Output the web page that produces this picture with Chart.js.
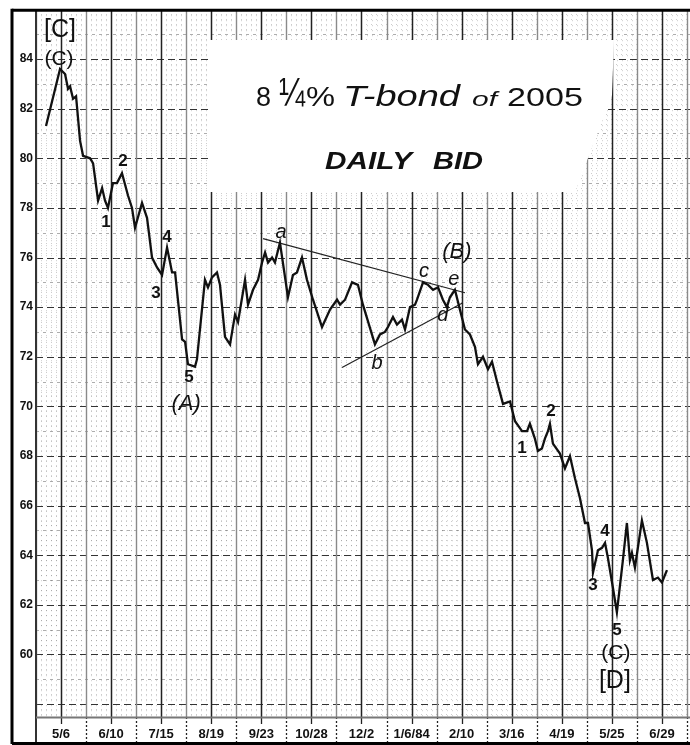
<!DOCTYPE html>
<html>
<head>
<meta charset="utf-8">
<script src="https://cdn.jsdelivr.net/npm/chart.js@4.4.1/dist/chart.umd.min.js"></script>
<style>
  html, body { margin: 0; padding: 0; background: #fff; }
  #wrap { width: 690px; height: 745px; }
</style>
</head>
<body>
<div id="wrap"><canvas id="chart" width="690" height="745"></canvas></div>
<script>
// Calendar days counted from 5/6/83, and the daily bid at each turn of the line
const days = [
  -10.5, -0.7, 2.8, 4.9, 6.3, 8.4, 10.5, 13.3, 15.4, 20.3,
  22.4, 25.9, 28.7, 30.7, 32.8, 36.3, 39.1, 42.6, 46.8, 49.6,
  51.7, 56.6, 60.1, 63.6, 67.1, 70.6, 74.1, 77.6, 79.7, 84.6,
  86.7, 88.7, 93.6, 95.0, 100.6, 102.7, 105.5, 109.0, 111.1, 114.6,
  118.1, 121.6, 123.7, 128.6, 130.7, 134.2, 137.7, 140.5, 142.6, 144.7,
  147.5, 149.5, 153.0, 158.6, 162.1, 164.9, 168.4, 171.9, 176.1, 182.4,
  188.0, 192.9, 195.0, 198.5, 203.4, 207.5, 211.0, 219.4, 222.9, 226.4,
  228.5, 232.0, 234.8, 238.3, 240.4, 243.9, 247.4, 248.8, 253.0, 256.5,
  260.0, 263.5, 266.9, 269.7, 271.8, 275.3, 278.8, 282.3, 285.8, 289.3,
  291.4, 294.9, 298.4, 301.2, 304.7, 308.9, 313.8, 317.3, 322.2, 325.7,
  327.7, 331.2, 333.3, 336.1, 338.2, 340.3, 341.7, 343.8, 348.7, 352.2,
  355.7, 359.2, 362.7, 366.2, 368.3, 371.1, 371.8, 375.3, 378.1, 380.2,
  382.2, 385.7, 388.5, 392.7, 395.5, 397.6, 399.0, 401.1, 406.0, 409.5,
  413.7, 417.2, 420.0, 423.5
];
const bid = [
  81.3, 83.6, 83.4, 82.8, 82.9, 82.4, 82.5, 80.7, 80.1, 80.0,
  79.8, 78.3, 78.8, 78.3, 78.0, 79.0, 79.0, 79.4, 78.5, 78.0,
  77.2, 78.2, 77.6, 76.0, 75.6, 75.3, 76.4, 75.4, 75.4, 72.7,
  72.6, 71.7, 71.6, 71.9, 75.1, 74.8, 75.2, 75.4, 74.9, 72.8,
  72.5, 73.7, 73.4, 75.1, 74.1, 74.7, 75.1, 75.8, 76.2, 75.8,
  76.0, 75.8, 76.6, 74.4, 75.3, 75.4, 76.0, 75.1, 74.3, 73.2,
  73.9, 74.3, 74.1, 74.3, 75.0, 74.9, 74.1, 72.5, 72.9, 73.0,
  73.2, 73.6, 73.3, 73.5, 73.1, 74.0, 74.1, 74.3, 75.0, 74.9,
  74.7, 74.8, 74.3, 74.0, 74.4, 74.7, 73.9, 73.1, 72.9, 72.4,
  71.7, 72.0, 71.5, 71.8, 71.0, 70.1, 70.2, 69.4, 69.0, 69.0,
  69.3, 68.7, 68.2, 68.3, 68.7, 69.0, 69.3, 68.5, 68.1, 67.5,
  68.0, 67.1, 66.3, 65.3, 65.3, 64.2, 63.3, 64.2, 64.3, 64.5,
  63.9, 62.7, 61.7, 63.8, 65.3, 63.8, 64.1, 63.5, 65.4, 64.5,
  63.0, 63.1, 62.9, 63.4
];

// Triangle boundary lines (a-c and b-d)
const upperLineDays = [141.2, 282.3];
const upperLineBids = [76.76, 74.58];
const lowerLineDays = [196.4, 280.9];
const lowerLineBids = [71.57, 74.18];

// Axis ticks
const tickDays = [0, 35, 70, 105, 140, 175, 210, 245, 280, 315, 350, 385, 420];
const tickLabels = ['5/6', '6/10', '7/15', '8/19', '9/23', '10/28', '12/2', '1/6/84', '2/10', '3/16', '4/19', '5/25', '6/29'];
const priceTicks = [60, 62, 64, 66, 68, 70, 72, 74, 76, 78, 80, 82, 84];

// Wave count labels
const waveTexts = ['[C]', '(C)', '1', '2', '3', '4', '5', '(A)', 'a', 'b', 'c', 'd', 'e', '(B)', '1', '2', '3', '4', '5', '(C)', '[D]'];
const waveDays  = [-0.7, -1.4, 31.4, 43.3, 66.4, 74.1, 89.4, 87.4, 153.7, 220.8, 253.7, 266.9, 274.6, 276.7, 322.2, 342.4, 371.8, 380.2, 388.5, 387.8, 387.1];
const waveBids  = [85.17, 84.0, 77.4, 79.86, 74.54, 76.8, 71.16, 70.12, 77.0, 71.73, 75.43, 73.66, 75.11, 76.23, 68.31, 69.79, 62.79, 64.97, 60.98, 60.06, 58.93];
const waveKinds = ['degree', 'paren', 'num', 'num', 'num', 'num', 'num', 'ital', 'letter', 'letter', 'letter', 'letter', 'letter', 'ital', 'num', 'num', 'num', 'num', 'num', 'paren', 'degree'];

const SANS = '"Liberation Sans", Arial, Helvetica, sans-serif';
const labelFonts = {
  degree: '25px ' + SANS,
  paren: '21px ' + SANS,
  num: 'bold 17px ' + SANS,
  ital: 'italic 22px ' + SANS,
  letter: 'italic 20px ' + SANS
};

function strokeLine(ctx, x1, y1, x2, y2) {
  ctx.beginPath();
  ctx.moveTo(x1, y1);
  ctx.lineTo(x2, y2);
  ctx.stroke();
}

// Draws text stretched horizontally to a given width, left edge at x
function fitText(ctx, text, font, x, baseline, width) {
  ctx.font = font;
  const natural = ctx.measureText(text).width;
  ctx.save();
  ctx.translate(x, baseline);
  ctx.scale(width / natural, 1);
  ctx.textAlign = 'left';
  ctx.textBaseline = 'alphabetic';
  ctx.fillText(text, 0, 0);
  ctx.restore();
}

// Graph-paper ruling, title panel and frame
const paperPlugin = {
  id: 'paper',
  beforeDatasetsDraw(chart) {
    const { ctx, chartArea: a, scales: { x, y } } = chart;
    ctx.save();
    ctx.beginPath();
    ctx.rect(a.left, a.top, a.right - a.left, a.bottom - a.top);
    ctx.clip();

    // fine dotted ruling
    ctx.lineWidth = 1;
    ctx.strokeStyle = 'rgba(0,0,0,0.20)';
    ctx.setLineDash([1, 4]);
    for (let k = -5; k <= 126; k++) {
      if (k % 5 === 0) continue;
      const px = Math.round(x.getPixelForValue(k * 3.5)) + 0.5;
      strokeLine(ctx, px, a.top, px, a.bottom);
    }
    for (let k = 287; k <= 430; k++) {
      if (k % 5 === 0) continue;
      const py = Math.round(y.getPixelForValue(k / 5)) + 0.5;
      strokeLine(ctx, a.left, py, a.right, py);
    }

    // whole-point lines
    for (let v = 58; v <= 85; v++) {
      const py = Math.round(y.getPixelForValue(v)) + 0.5;
      if (v % 2 === 0) {
        ctx.strokeStyle = '#333'; ctx.lineWidth = 1.2; ctx.setLineDash([7, 4]);
      } else {
        ctx.strokeStyle = 'rgba(0,0,0,0.32)'; ctx.lineWidth = 1; ctx.setLineDash([3, 4]);
      }
      strokeLine(ctx, a.left, py, a.right, py);
    }

    // week-group verticals
    ctx.setLineDash([]);
    for (let k = -1; k <= 25; k++) {
      const d = k * 17.5;
      const px = Math.round(x.getPixelForValue(d)) + 0.5;
      if (k % 2 === 0) { ctx.strokeStyle = '#222'; ctx.lineWidth = 1.5; }
      else { ctx.strokeStyle = '#8a8a8a'; ctx.lineWidth = 1.4; }
      strokeLine(ctx, px, a.top, px, a.bottom);
    }

    // white panel behind the title
    ctx.fillStyle = '#fff';
    ctx.beginPath();
    ctx.moveTo(208, 40);
    ctx.lineTo(614, 40);
    ctx.lineTo(612, 95);
    ctx.lineTo(575, 192);
    ctx.lineTo(208, 192);
    ctx.closePath();
    ctx.fill();
    ctx.restore();

    // title
    ctx.save();
    ctx.fillStyle = '#111';
    fitText(ctx, '8', '27px ' + SANS, 256, 106, 15);
    fitText(ctx, '\u00BC', '40px ' + SANS, 279, 106, 26);
    fitText(ctx, '%', '28px ' + SANS, 306, 106, 29);
    fitText(ctx, 'T-bond', 'italic 30px ' + SANS, 343, 106, 117);
    fitText(ctx, 'of', 'italic 21px ' + SANS, 472, 106, 25);
    fitText(ctx, '2005', '25px ' + SANS, 507, 106, 76);
    fitText(ctx, 'DAILY', 'italic bold 24px ' + SANS, 325, 169, 87);
    fitText(ctx, 'BID', 'italic bold 24px ' + SANS, 433, 169, 50);
    ctx.restore();
  },
  afterDatasetsDraw(chart) {
    const { ctx, scales: { x, y } } = chart;
    ctx.save();
    ctx.fillStyle = '#111';
    ctx.textAlign = 'center';
    ctx.textBaseline = 'middle';
    waveTexts.forEach((t, i) => {
      ctx.font = labelFonts[waveKinds[i]];
      ctx.fillText(t, x.getPixelForValue(waveDays[i]), y.getPixelForValue(waveBids[i]));
    });
    ctx.restore();
  },
  afterDraw(chart) {
    const { ctx, chartArea: a, scales: { x } } = chart;
    const W = chart.width, H = chart.height;
    ctx.save();
    // date strip separators
    ctx.strokeStyle = '#222';
    ctx.lineWidth = 1.3;
    for (let k = 0; k <= 25; k++) {
      const px = Math.round(x.getPixelForValue(k * 17.5)) + 0.5;
      if (k % 2 === 0) { ctx.setLineDash([]); strokeLine(ctx, px, a.bottom, px, a.bottom + 7); }
      else { ctx.setLineDash([2, 2]); strokeLine(ctx, px, a.bottom, px, H - 2); }
    }
    ctx.setLineDash([]);
    // plot borders
    ctx.strokeStyle = '#333';
    ctx.lineWidth = 2;
    strokeLine(ctx, a.left, a.top, a.left, H - 2);
    ctx.strokeStyle = '#777';
    strokeLine(ctx, a.left, a.bottom + 0.5, W, a.bottom + 0.5);
    // outer frame
    ctx.strokeStyle = '#000';
    ctx.lineWidth = 3;
    strokeLine(ctx, 12, a.top, W, a.top);
    strokeLine(ctx, 12, a.top - 1.5, 12, H - 1);
    strokeLine(ctx, 12, H - 1.5, W, H - 1.5);
    ctx.restore();
  }
};

const tickFont = { family: '"Liberation Sans Narrow", "Liberation Sans", Arial, sans-serif', size: 13, weight: 'bold' };

new Chart(document.getElementById('chart'), {
  type: 'scatter',
  data: {
    datasets: [
      {
        data: days.map((d, i) => ({ x: d, y: bid[i] })),
        showLine: true,
        borderColor: '#111',
        borderWidth: 2.3,
        pointRadius: 0,
        tension: 0
      },
      {
        data: upperLineDays.map((d, i) => ({ x: d, y: upperLineBids[i] })),
        showLine: true,
        borderColor: '#222',
        borderWidth: 1.2,
        pointRadius: 0
      },
      {
        data: lowerLineDays.map((d, i) => ({ x: d, y: lowerLineBids[i] })),
        showLine: true,
        borderColor: '#222',
        borderWidth: 1.2,
        pointRadius: 0
      }
    ]
  },
  options: {
    responsive: false,
    animation: false,
    devicePixelRatio: 1,
    layout: { padding: { left: 12, top: 9, right: 0, bottom: 2 } },
    plugins: { legend: { display: false }, tooltip: { enabled: false } },
    scales: {
      x: {
        type: 'linear',
        min: -17.5,
        max: 439.6,
        afterBuildTicks: s => { s.ticks = tickDays.map(v => ({ value: v })); },
        afterFit: s => { s.height = 26; },
        ticks: {
          autoSkip: false,
          maxRotation: 0,
          padding: 10,
          color: '#111',
          font: tickFont,
          callback: v => tickLabels[tickDays.indexOf(v)]
        },
        grid: { display: false, drawTicks: false },
        border: { display: false }
      },
      y: {
        type: 'linear',
        min: 57.48,
        max: 85.97,
        afterBuildTicks: s => { s.ticks = priceTicks.map(v => ({ value: v })); },
        afterFit: s => { s.width = 24; },
        ticks: {
          padding: 3,
          color: '#111',
          font: { family: '"Liberation Sans Narrow", "Liberation Sans", Arial, sans-serif', size: 12, weight: 'bold' },
          callback: v => String(v)
        },
        grid: { display: false, drawTicks: false },
        border: { display: false }
      }
    }
  },
  plugins: [paperPlugin]
});
</script>
</body>
</html>
